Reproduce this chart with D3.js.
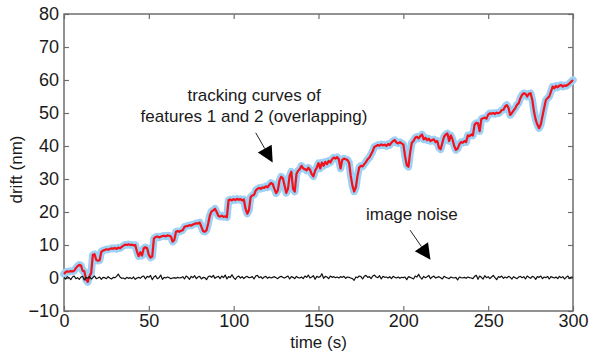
<!DOCTYPE html>
<html>
<head>
<meta charset="utf-8">
<script src="https://cdn.jsdelivr.net/npm/d3@7"></script>
<style>
  html, body { margin: 0; padding: 0; background: #fff; }
  svg { display: block; }
  text { font-family: "Liberation Sans", Arial, Helvetica, sans-serif; fill: #1a1a1a; }
</style>
</head>
<body>
<div id="chart"></div>
<script>
// ---- data ----
const timeStart = 0;      // s
const timeStep = 1;       // s between samples
// tracking curve (features 1 and 2, overlapping), nm, t = 0..300 s
const trackingDrift = [
  1.2, 1.8, 2.0, 1.9, 2.1, 2.0, 2.2, 3.0, 3.6, 4.0,
  3.8, 2.2, 2.0, -0.5, -1.2, 0.5, 1.5, 7.0, 7.2, 5.5,
  5.2, 5.4, 8.0, 8.3, 8.5, 8.7, 8.6, 8.8, 9.0, 8.9,
  9.1, 8.8, 9.2, 9.0, 9.4, 9.8, 10.1, 10.0, 10.2, 10.0,
  10.1, 9.9, 10.0, 8.0, 6.6, 7.8, 6.8, 9.0, 9.3, 9.0,
  7.0, 6.2, 6.5, 12.0, 12.4, 12.6, 12.3, 12.5, 12.7, 12.8,
  12.6, 12.9, 12.8, 12.6, 11.0, 11.5, 14.0, 14.2, 14.0, 14.3,
  14.5, 15.5, 15.7, 15.8, 16.0, 15.9, 16.2, 16.4, 16.6, 16.5,
  16.8, 15.5, 14.2, 14.0, 14.5, 16.5, 19.0, 20.2, 20.5, 21.0,
  20.0, 18.8, 18.6, 18.9, 18.5, 18.7, 18.4, 23.6, 23.8, 23.5,
  23.9, 23.6, 24.0, 23.7, 23.9, 23.5, 23.8, 21.0, 19.5, 20.5,
  24.5, 25.0, 25.2, 26.5, 27.0, 27.3, 27.0, 27.5, 27.3, 27.8,
  27.5, 28.2, 28.8, 28.5, 27.0, 25.7, 26.5, 29.5, 30.7, 30.2,
  28.0, 25.8, 27.0, 31.0, 32.2, 27.0, 26.2, 31.5, 32.5, 33.0,
  34.0, 33.2, 33.0, 32.6, 33.4, 32.8, 31.5, 30.8, 32.5, 33.5,
  34.8, 33.2, 35.0, 34.0, 35.2, 34.5, 35.5, 35.0, 36.0, 36.5,
  36.2, 36.6, 36.0, 33.2, 35.8, 36.2, 36.0, 35.8, 35.0, 31.0,
  28.0, 26.2, 27.5, 31.0, 33.5, 34.0, 33.8, 34.5, 35.2, 36.0,
  36.5, 37.5, 38.5, 39.8, 40.0, 40.3, 40.1, 40.5, 40.2, 40.4,
  40.0, 40.6, 40.3, 41.0, 41.5, 41.8, 41.0, 40.8, 41.2, 40.8,
  40.5, 37.0, 34.2, 33.7, 38.0, 41.0, 41.5, 42.5, 42.8, 42.3,
  43.0, 43.5, 42.0, 42.5, 41.8, 42.2, 41.5, 41.8, 42.0, 41.2,
  41.5, 39.5, 39.0, 41.0, 42.8, 43.5, 43.8, 41.5, 43.2, 42.0,
  40.0, 38.8, 39.2, 40.5, 41.2, 41.0, 41.5, 41.2, 43.2, 43.0,
  43.5, 43.2, 46.5, 47.0, 46.9, 44.5, 48.2, 48.4, 48.6, 48.3,
  49.5, 49.9, 49.8, 50.0, 49.7, 50.1, 49.9, 50.2, 50.9, 51.0,
  52.0, 52.4, 51.5, 49.4, 50.0, 50.8, 51.5, 52.5, 53.0, 54.5,
  55.5, 56.0, 55.8, 55.0, 55.8, 56.0, 54.0, 50.5, 48.0, 46.5,
  45.4, 46.5, 49.0, 51.5, 53.9, 54.5, 55.0, 56.5, 58.0, 57.5,
  58.2, 57.8, 58.3, 58.5, 58.0, 58.4, 58.2, 58.6, 59.0, 59.5,
  60.0
];
// image noise, nm, t = 0..300 s
const imageNoise = [
  0.2, -0.3, 0.4, 0.1, -0.5, 0.3, 0.6, -0.2, 0.1, -0.4,
  0.3, 0.5, -0.6, 0.2, -0.1, 0.4, -0.3, 0.1, 0.6, -0.2,
  0.0, 0.3, -0.4, 0.2, 0.1, -0.2, 0.4, 0.0, -0.3, 0.2,
  0.1, 0.5, 1.2, 0.3, -0.1, 0.0, -0.3, 0.2, -0.1, 0.1,
  -0.2, 0.3, -0.4, 0.0, 0.2, -0.1, 0.4, 0.6, -0.3, 0.5,
  0.2, 0.8, -0.5, 0.3, 0.7, -0.2, 0.1, 0.9, -0.4, 0.2,
  0.0, 0.3, 0.1, -0.2, 0.0, 0.1, -0.1, 0.2, 0.0, 0.1,
  0.4, -0.3, 0.6, 0.2, -0.4, 0.5, 0.1, 0.7, -0.2, 0.3,
  0.5, -0.3, 0.2, 0.1, -0.5, 0.4, 0.6, 0.2, 0.8, -0.1,
  0.3, 0.5, -0.2, 0.6, 0.1, 0.9, -0.3, 0.4, 0.2, 1.0,
  0.1, -0.4, 0.3, 0.6, 0.0, 0.4, -0.2, 0.3, 0.5, 0.1,
  0.2, 0.4, -0.3, 0.6, 0.8, 0.1, 0.4, -0.2, 0.3, 0.5,
  -0.1, 0.3, 0.0, 0.2, 0.4, 0.1, -0.2, 0.3, 0.5, 0.2,
  0.0, 0.3, 0.6, -0.3, 0.4, 0.2, -0.2, 0.5, 0.1, 0.0,
  0.3, -0.2, 0.6, 0.2, 0.9, 0.0, 0.3, 0.7, -0.4, 0.5,
  0.2, 0.4, 1.3, -0.1, 0.5, 0.3, -0.2, 0.6, 0.2, 0.4,
  0.1, 0.3, 0.0, 0.4, 0.2, 0.5, -0.1, 0.3, 0.2, 0.0,
  -0.2, -0.7, 0.3, 0.1, 0.6, 0.4, -0.3, 0.5, 0.8, 0.2,
  0.4, -0.2, 0.6, 0.9, 0.3, 0.1, 0.7, -0.3, 0.5, 0.2,
  0.3, 0.0, 0.4, -0.2, 0.5, 0.2, 0.0, 0.3, -0.1, 0.2,
  0.1, 0.3, -0.5, 0.4, 0.2, 0.0, -0.3, 0.6, 0.3, 1.1,
  0.2, -0.3, 0.5, 0.1, 0.4, 0.8, -0.2, 0.3, 0.6, 0.0,
  0.2, 0.4, 0.1, -0.3, 0.5, 0.2, 0.0, -0.2, 0.3, 0.1,
  0.0, 0.2, -0.6, 0.3, 0.1, 0.0, 0.2, -0.1, 0.3, 0.1,
  0.0, -0.2, 0.5, 0.8, -0.4, 0.6, 0.2, -0.3, 0.7, 0.1,
  0.4, -0.2, 0.3, 0.8, 0.1, -0.5, 0.4, 0.2, 0.6, -0.1,
  0.3, 0.0, 0.5, 0.2, -0.3, 0.4, 0.1, -0.2, 0.3, 0.5,
  0.1, 0.4, -0.3, 0.6, 0.2, -0.1, 0.5, 0.3, -0.4, 0.4,
  0.2, 0.6, -0.2, 0.3, 0.1, 0.5, -0.3, 0.4, 0.2, 0.0,
  0.3, -0.2, 0.5, 0.1, 0.4, -0.3, 0.2, 0.6, -0.1, 0.3,
  0.2
];
const xTicks = [0, 50, 100, 150, 200, 250, 300];
const yTicks = [-10, 0, 10, 20, 30, 40, 50, 60, 70, 80];
const xLabel = "time (s)";
const yLabel = "drift (nm)";
const annotations = [
  { lines: ["tracking curves of", "features 1 and 2 (overlapping)"], t: 112, v: 53.5, from: [113, 44], to: [123, 35] },
  { lines: ["image noise"], t: 205, v: 17.5, from: [204, 14.5], to: [216, 5.5] }
];

// ---- layout ----
const W = 589, H = 363;
const L = 64, R = 573, T = 14, B = 311;
const svg = d3.select("#chart").append("svg").attr("width", W).attr("height", H);

const x = d3.scaleLinear().domain([0, 300]).range([L, R]);
const y = d3.scaleLinear().domain([-10, 80]).range([B, T]);

const axisColor = "#6e6e6e";
const fontSize = 17;
const tickFontSize = 18;

// axes with inward ticks
const gx = svg.append("g").attr("transform", `translate(0,${B})`)
  .call(d3.axisBottom(x).tickValues(xTicks).tickSize(-5).tickPadding(3).tickFormat(d3.format("d")));
const gy = svg.append("g").attr("transform", `translate(${L},0)`)
  .call(d3.axisLeft(y).tickValues(yTicks).tickSize(-5).tickPadding(5).tickFormat(d3.format("d")));
const gt = svg.append("g").attr("transform", `translate(0,${T})`)
  .call(d3.axisTop(x).tickValues(xTicks).tickSize(-5).tickFormat(""));
const gr = svg.append("g").attr("transform", `translate(${R},0)`)
  .call(d3.axisRight(y).tickValues(yTicks).tickSize(-5).tickFormat(""));
[gx, gy, gt, gr].forEach(g => {
  g.select(".domain").remove();
  g.selectAll(".tick line").attr("stroke", axisColor).attr("stroke-width", 1.2);
  g.selectAll(".tick text").attr("font-size", tickFontSize).attr("fill", "#1a1a1a")
    .attr("font-family", '"Liberation Sans", Arial, sans-serif');
});

// box
svg.append("rect").attr("x", L).attr("y", T).attr("width", R - L).attr("height", B - T)
  .attr("fill", "none").attr("stroke", axisColor).attr("stroke-width", 1.5);

// axis labels
svg.append("text").attr("x", (L + R) / 2).attr("y", 348).attr("text-anchor", "middle")
  .attr("font-size", fontSize).text(xLabel);
svg.append("text").attr("transform", `translate(22,${(T + B) / 2 + 7}) rotate(-90)`)
  .attr("text-anchor", "middle").attr("font-size", fontSize).text(yLabel);

// data lines
const lineGen = d3.line().x((d, i) => x(timeStart + i * timeStep)).y(d => y(d));
const plot = svg.append("g");
plot.append("path").datum(trackingDrift).attr("d", lineGen)
  .attr("fill", "none").attr("stroke", "#9dd0f4").attr("stroke-width", 7.5)
  .attr("stroke-linejoin", "round").attr("stroke-linecap", "round");
plot.append("path").datum(trackingDrift).attr("d", lineGen)
  .attr("fill", "none").attr("stroke", "#f2121b").attr("stroke-width", 2.2)
  .attr("stroke-linejoin", "round");
plot.append("path").datum(imageNoise).attr("d", lineGen)
  .attr("fill", "none").attr("stroke", "#111").attr("stroke-width", 1.2)
  .attr("stroke-linejoin", "round");

// annotations
annotations.forEach(a => {
  const tx = svg.append("text").attr("text-anchor", "middle").attr("font-size", fontSize);
  a.lines.forEach((ln, i) => {
    tx.append("tspan").attr("x", x(a.t)).attr("y", y(a.v) + i * 21).text(ln);
  });
  const x0 = x(a.from[0]), y0 = y(a.from[1]);
  const x1 = x(a.to[0]), y1 = y(a.to[1]);
  const dx = x1 - x0, dy = y1 - y0, len = Math.hypot(dx, dy);
  const ux = dx / len, uy = dy / len;
  const headLen = 16, headHalf = 8;
  const bx = x1 - ux * headLen, by = y1 - uy * headLen;
  svg.append("line").attr("x1", x0).attr("y1", y0).attr("x2", bx).attr("y2", by)
    .attr("stroke", "#222").attr("stroke-width", 1);
  svg.append("path")
    .attr("d", `M${x1},${y1}L${bx - uy * headHalf},${by + ux * headHalf}L${bx + uy * headHalf},${by - ux * headHalf}Z`)
    .attr("fill", "#000");
});
</script>
</body>
</html>
